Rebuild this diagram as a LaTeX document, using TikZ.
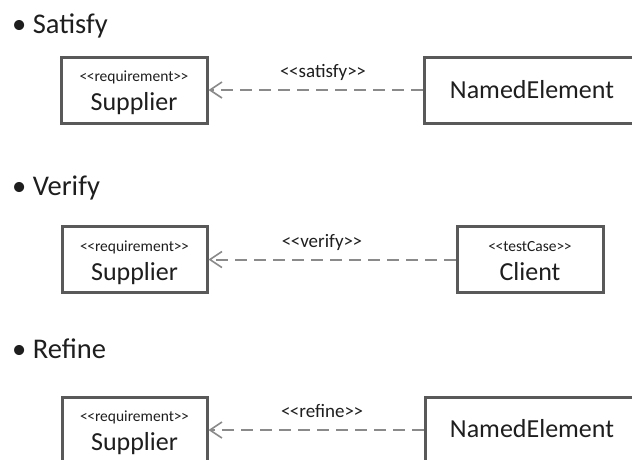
\documentclass[tikz,border=0pt]{standalone}
\usepackage{fontspec}
\setmainfont{Carlito}
\usetikzlibrary{arrows.meta}
\definecolor{boxline}{HTML}{595959}
\definecolor{depline}{HTML}{8A8A8A}
\definecolor{txtcol}{HTML}{1E1E1E}
\newcommand{\lt}{<\kern-0.5pt<}
\newcommand{\gt}{>\kern-0.5pt>}
\tikzset{
  umlbox/.style={draw=boxline, line width=3pt, fill=white, rectangle, inner sep=0pt},
  dep/.style={draw=depline, line width=2pt, dash pattern=on 12pt off 7pt,
    -{Straight Barb[length=12pt,width=16pt,line width=1.6pt]}},
  heading/.style={anchor=base west, text=txtcol, font=\fontsize{28.5}{32}\selectfont, inner sep=0pt},
  stereo/.style={anchor=base, text=txtcol, font=\fontsize{15.5}{18}\selectfont, inner sep=0pt},
  elname/.style={anchor=base, text=txtcol, font=\fontsize{26}{30}\selectfont, inner sep=0pt},
  deplabel/.style={anchor=base, text=txtcol, font=\fontsize{19}{22}\selectfont, inner sep=0pt}
}
\begin{document}
\begin{tikzpicture}[x=1pt,y=-1pt]
\useasboundingbox[fill=white] (0,0) rectangle (632,459);
% Satisfy
\node[heading] (h1) at (12,33) {• Satisfy};
\node[umlbox, minimum width=146pt, minimum height=66pt] (s1) at (134,90) {};
\node[stereo] (s1t) at (134,81) {\lt requirement\gt};
\node[elname] (s1n) at (134,110) {Supplier};
\node[umlbox, minimum width=221pt, minimum height=66pt] (n1) at (534.5,90) {};
\node[elname] (n1n) at (532,98) {NamedElement};
\draw[dep] (n1.west) -- (s1.east);
\node[deplabel] (l1) at (323,77) {\lt satisfy\gt};
% Verify
\node[heading] (h2) at (12,195) {• Verify};
\node[umlbox, minimum width=145pt, minimum height=66pt] (s2) at (134.5,259.5) {};
\node[stereo] (s2t) at (134.5,251) {\lt requirement\gt};
\node[elname] (s2n) at (134.5,280) {Supplier};
\node[umlbox, minimum width=146pt, minimum height=66pt] (c2) at (530,259.5) {};
\node[stereo] (c2t) at (530,251) {\lt testCase\gt};
\node[elname] (c2n) at (530,280) {Client};
\draw[dep] (c2.west) -- (s2.east);
\node[deplabel] (l2) at (322,247) {\lt verify\gt};
% Refine
\node[heading] (h3) at (12,358) {• Refine};
\node[umlbox, minimum width=145pt, minimum height=66pt] (s3) at (134.5,430) {};
\node[stereo] (s3t) at (134.5,421) {\lt requirement\gt};
\node[elname] (s3n) at (134.5,450) {Supplier};
\node[umlbox, minimum width=221pt, minimum height=66pt] (n3) at (535.5,430) {};
\node[elname] (n3n) at (532,437) {NamedElement};
\draw[dep] (n3.west) -- (s3.east);
\node[deplabel] (l3) at (322,417) {\lt refine\gt};
\end{tikzpicture}
\end{document}
